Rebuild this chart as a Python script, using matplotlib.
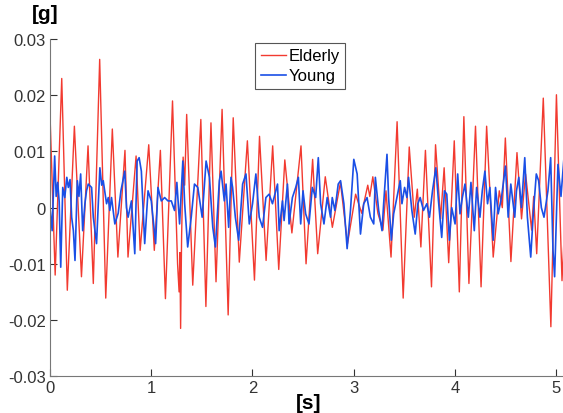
import matplotlib.pyplot as plt

plt.rcParams['font.family'] = ['Liberation Sans', 'DejaVu Sans']

# elderly sway acceleration [g] (turning points)
elderly_t = [0.00, 0.05, 0.115, 0.17, 0.24, 0.31, 0.375, 0.427, 0.49, 0.55,
             0.615, 0.67, 0.74, 0.77, 0.85, 0.89, 0.975, 1.03, 1.09, 1.14,
             1.21, 1.26, 1.275, 1.283, 1.29, 1.30, 1.315, 1.33, 1.35, 1.41,
             1.49, 1.54, 1.59, 1.64, 1.70, 1.76, 1.81, 1.87, 1.95, 2.02,
             2.07, 2.135, 2.20, 2.26, 2.32, 2.39, 2.48, 2.53, 2.595, 2.645,
             2.72, 2.79, 2.87, 2.94, 3.02, 3.08, 3.14, 3.16, 3.19, 3.24,
             3.29, 3.32, 3.37, 3.43, 3.49, 3.55, 3.60, 3.63, 3.665, 3.71,
             3.77, 3.81, 3.86, 3.895, 3.94, 3.995, 4.045, 4.09, 4.14, 4.205,
             4.26, 4.315, 4.38, 4.44, 4.47, 4.50, 4.555, 4.615, 4.66, 4.70,
             4.76, 4.78, 4.81, 4.875, 4.95, 5.005, 5.06, 5.10]
elderly_g = [0.016, -0.012, 0.023, -0.0147, 0.0145, -0.0123, 0.011, -0.0135, 0.0264, -0.0161,
             0.014, -0.0088, 0.0102, -0.0088, 0.0092, -0.0076, 0.0112, -0.0076, 0.0102, -0.0162,
             0.019, -0.010, -0.015, -0.008, -0.0215, -0.005, 0.009, 0.004, 0.0166, -0.0138,
             0.0157, -0.0176, 0.0151, -0.0132, 0.0175, -0.0191, 0.016, -0.0097, 0.0119, -0.0129,
             0.0127, -0.0094, 0.011, -0.011, 0.0085, -0.0045, 0.011, -0.010, 0.0086, -0.0082,
             0.0055, -0.0035, 0.0045, -0.0064, 0.0024, -0.001, 0.004, 0.002, 0.0055, -0.001,
             -0.004, 0.003, -0.0088, 0.0153, -0.0161, 0.0108, -0.0017, 0.0033, -0.007, 0.0102,
             -0.0141, 0.0112, -0.002, 0.0071, -0.0098, 0.0119, -0.015, 0.0162, -0.0135, 0.0145,
             -0.0141, 0.0145, -0.0088, 0.003, 0.0, 0.0124, -0.0096, 0.0098, -0.002, 0.006,
             -0.004, 0.002, -0.0082, 0.0195, -0.0212, 0.0201, -0.013, 0.002]

# young sway acceleration [g]
young_t = [0.0, 0.02, 0.045, 0.06, 0.075, 0.09, 0.105, 0.125, 0.145, 0.165,
           0.18, 0.197, 0.213, 0.23, 0.246, 0.269, 0.285, 0.302, 0.322, 0.344,
           0.36, 0.377, 0.41, 0.427, 0.459, 0.492, 0.51, 0.525, 0.558, 0.575,
           0.59, 0.607, 0.64, 0.673, 0.70, 0.738, 0.755, 0.771, 0.804, 0.837,
           0.86, 0.88, 0.902, 0.935, 0.968, 1.0, 1.043, 1.066, 1.099, 1.132,
           1.165, 1.198, 1.23, 1.253, 1.28, 1.312, 1.33, 1.36, 1.395, 1.427,
           1.46, 1.503, 1.542, 1.575, 1.608, 1.634, 1.673, 1.69, 1.722, 1.739,
           1.765, 1.788, 1.804, 1.831, 1.864, 1.903, 1.936, 1.969, 2.001, 2.034,
           2.067, 2.1, 2.133, 2.165, 2.198, 2.248, 2.264, 2.297, 2.313, 2.346,
           2.362, 2.395, 2.428, 2.454, 2.477, 2.5, 2.526, 2.559, 2.592, 2.625,
           2.651, 2.674, 2.707, 2.739, 2.772, 2.789, 2.815, 2.848, 2.871, 2.904,
           2.936, 2.969, 3.002, 3.035, 3.068, 3.1, 3.133, 3.166, 3.199, 3.215,
           3.248, 3.281, 3.297, 3.33, 3.346, 3.373, 3.396, 3.428, 3.461, 3.478,
           3.504, 3.527, 3.543, 3.576, 3.609, 3.635, 3.658, 3.691, 3.724, 3.75,
           3.78, 3.813, 3.839, 3.871, 3.898, 3.921, 3.947, 3.97, 4.003, 4.029,
           4.052, 4.075, 4.101, 4.134, 4.16, 4.193, 4.216, 4.249, 4.272, 4.298,
           4.324, 4.347, 4.38, 4.403, 4.429, 4.462, 4.501, 4.528, 4.554, 4.593,
           4.61, 4.633, 4.659, 4.692, 4.718, 4.751, 4.774, 4.806, 4.829, 4.856,
           4.882, 4.921, 4.948, 4.971, 4.987, 5.02, 5.05, 5.08, 5.10]
young_g = [0.0, -0.0041, 0.0092, 0.002, 0.0045, 0.001, -0.0106, 0.0036, 0.0018, 0.0054,
           0.0036, 0.005, -0.0017, -0.0041, -0.0094, 0.0048, 0.002, 0.006, -0.0041, 0.0007,
           0.003, 0.0042, 0.0036, -0.0017, -0.0064, 0.0071, 0.004, 0.0048, 0.0007, 0.0018,
           -0.0005, 0.0018, -0.0029, -0.001, 0.003, 0.0065, 0.0, -0.0017, 0.0012, -0.0082,
           0.0083, 0.0089, 0.0065, -0.0064, 0.003, 0.0012, -0.0064, 0.0036, 0.0012, 0.0018,
           0.0012, 0.0012, -0.0005, 0.0045, -0.0029, 0.0083, 0.0007, -0.007, -0.0017, 0.0042,
           0.0036, -0.0017, 0.0083, 0.0054, -0.0035, -0.007, 0.0048, 0.0065, 0.0012, 0.0042,
           -0.0035, 0.0054, 0.0036, -0.0017, -0.0058, 0.0042, 0.006, -0.0029, 0.0007, 0.006,
           -0.0017, -0.0035, 0.0018, 0.0024, 0.0007, 0.0042, -0.0041, 0.0012, -0.0023, 0.0042,
           -0.0029, 0.0018, 0.0036, 0.0054, -0.0029, 0.003, -0.0011, -0.0029, 0.0036, 0.0018,
           0.0089, 0.0007, -0.0029, 0.0018, -0.0017, 0.0018, -0.0005, 0.0042, 0.0048, 0.0007,
           -0.0073, -0.0005, 0.0086, 0.006, -0.0047, 0.0007, 0.0018, -0.0017, -0.0029, 0.0054,
           -0.0005, -0.0041, 0.0007, 0.0095, 0.0018, -0.0058, -0.0011, 0.0018, 0.0048, 0.0007,
           0.0036, 0.0018, 0.0054, -0.0005, -0.0047, 0.0007, 0.0018, -0.0005, 0.0007, -0.0017,
           0.003, 0.0071, 0.0012, -0.0053, 0.003, 0.0024, -0.0058, 0.0, -0.0029, 0.006,
           -0.0011, 0.0018, 0.0042, -0.0017, 0.0045, -0.0041, 0.0036, -0.0017, 0.003, 0.0065,
           0.0007, 0.0036, -0.0058, 0.0036, -0.0011, 0.0018, 0.0074, -0.0017, 0.0042, -0.0017,
           0.003, 0.0054, 0.0, 0.0089, -0.0017, -0.0088, -0.0017, 0.006, 0.0048, 0.0,
           -0.0017, 0.003, 0.0089, -0.0076, -0.0123, 0.0077, 0.002, 0.009, 0.005]

fig = plt.figure(figsize=(5.63, 4.14), dpi=100)
ax = fig.add_axes([0.089, 0.089, 0.92, 0.814])

ax.plot(elderly_t, elderly_g, color='#f23a30', lw=1.0, label='Elderly')
ax.plot(young_t, young_g, color='#1a4fe6', lw=1.2, label='Young')

ax.set_xlim(0, 5.12)
ax.set_ylim(-0.03, 0.03)
ax.set_xticks([0, 1, 2, 3, 4, 5])
ax.set_yticks([-0.03, -0.02, -0.01, 0, 0.01, 0.02, 0.03])
ax.set_yticklabels(['-0.03', '-0.02', '-0.01', '0', '0.01', '0.02', '0.03'])
ax.tick_params(direction='in', length=5, labelsize=12, colors='#333333', pad=3)

for s in ['top', 'right']:
    ax.spines[s].set_visible(False)
for s in ['left', 'bottom']:
    ax.spines[s].set_color('#777777')

ax.set_xlabel('[s]', fontsize=15, fontweight='bold', labelpad=-2)
fig.text(0.08, 0.965, '[g]', fontsize=15, fontweight='bold', ha='center', va='center')

leg = ax.legend(loc='upper center', bbox_to_anchor=(0.483, 0.99), fontsize=12,
                fancybox=False, framealpha=1, edgecolor='#555555',
                handlelength=1.5, borderpad=0.35, labelspacing=0.3, handletextpad=0.15,
                borderaxespad=0)
leg.get_frame().set_linewidth(0.8)

fig.savefig('out.png', dpi=100)
